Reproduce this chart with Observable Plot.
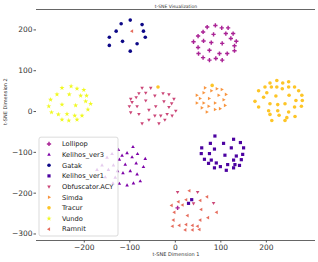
<!DOCTYPE html>
<html><head><meta charset="utf-8">
<script src="https://cdn.jsdelivr.net/npm/d3@7"></script>
<script src="https://cdn.jsdelivr.net/npm/@observablehq/plot@0.6"></script>
<style>body{margin:0;background:#fff}</style>
</head><body><div id="chart"></div>
<script>
const classes = ["Gatak","Kelihos_ver1","Kelihos_ver3","Lollipop","Obfuscator.ACY","Ramnit","Simda","Tracur","Vundo"];
const legendOrder = ["Lollipop","Kelihos_ver3","Gatak","Kelihos_ver1","Obfuscator.ACY","Simda","Tracur","Vundo","Ramnit"];
const xTicks = [-200,-100,0,100,200];
const yTicks = [-300,-200,-100,0,100,200];
const xDomain = [-305, 308];
const yDomain = [-316, 250];

const gatak = [[-99,224],[-119,215],[-73,213],[-130,197],[-70,197],[-145,182],[-66,182],[-116,172],[-84,166],[-145,162],[-99,148]];
const lollipop = [[88,211],[70,207],[102,205],[116,205],[61,195],[84,189],[111,191],[127,191],[50,185],[122,179],[40,171],[62,173],[79,169],[103,167],[134,172],[130,161],[50,157],[75,150],[51,142],[97,142],[114,142],[130,149],[61,132],[75,126],[89,130],[103,126],[5,-236]];
const vundo = [[-229,62],[-249,58],[-216,56],[-201,53],[-260,42],[-233,42],[-208,39],[-195,39],[-274,29],[-197,25],[-249,17],[-219,15],[-186,19],[-278,13],[-192,5],[-272,-2],[-257,-7],[-238,-6],[-221,-10],[-205,-10],[-249,-20],[-234,-22],[-216,-20]];
const obfuscator = [[-73,58],[-54,58],[-65,46],[-80,45],[-45,39],[-27,45],[-14,42],[-98,31],[-86,35],[-3,31],[-65,27],[-25,25],[-95,23],[-8,20],[-101,13],[-84,13],[-43,13],[-14,11],[-58,4],[-98,-2],[1,2],[-80,-6],[-45,-10],[-32,-10],[-18,-6],[-7,-10],[-58,-20],[-23,-20],[-73,-29],[-36,-29],[5,-197],[49,-197],[84,-224],[40,-225]];
const simda = [[65,58],[91,56],[102,54],[79,51],[62,46],[47,40],[95,40],[111,42],[54,32],[74,32],[106,29],[47,21],[62,21],[87,21],[109,15],[58,9],[73,13],[87,5],[98,7],[69,-1]];
const tracur = [[223,76],[208,70],[236,70],[249,73],[197,60],[211,60],[223,60],[235,56],[249,60],[262,60],[183,51],[201,46],[271,51],[221,38],[194,35],[250,40],[278,40],[265,27],[175,25],[208,19],[225,17],[241,19],[279,27],[183,11],[262,11],[277,13],[205,2],[225,2],[249,-1],[208,-7],[228,-9],[245,-15],[263,-12],[212,-22],[241,-22],[-38,60],[81,64]];
const kelihos3 = [[-93,-87],[-106,-102],[-83,-104],[-117,-108],[-95,-112],[-66,-116],[-86,-127],[-110,-130],[-70,-136],[-99,-146],[-115,-151],[-84,-154],[-77,-171],[-92,-176],[-106,-181],[-125,-94],[-139,-104],[-150,-113],[-123,-118],[-161,-132],[-136,-132],[-172,-143],[-147,-143],[-127,-146],[-154,-161],[-132,-162],[-137,-176],[-123,-177]];
const kelihos1 = [[87,-60],[128,-68],[77,-78],[106,-78],[143,-76],[58,-89],[86,-92],[123,-89],[150,-89],[57,-103],[75,-103],[109,-107],[134,-109],[148,-105],[64,-117],[79,-119],[128,-119],[145,-118],[73,-127],[90,-126],[115,-130],[131,-130],[99,-135],[86,-138],[128,-138],[112,-144],[141,-132],[36,-216],[29,-225]];
const ramnit = [[31,-194],[70,-209],[7,-221],[24,-216],[16,-229],[-8,-230],[55,-218],[57,-240],[-2,-247],[91,-247],[27,-255],[72,-260],[-4,-266],[55,-266],[9,-279],[24,-277],[38,-279],[49,-281],[-6,-281],[22,-290],[38,-290],[53,-289],[-95,197]];

const tri = (angle) => ({draw(ctx, size){
  const r = Math.sqrt(size / Math.PI) * 1.3;
  for (let k = 0; k < 3; k++) {
    const a = angle + k * 2 * Math.PI / 3;
    const x = r * Math.cos(a), y = r * Math.sin(a);
    if (k) ctx.lineTo(x, y); else ctx.moveTo(x, y);
  }
  ctx.closePath();
}});
const symbolsByClass = {
  "Gatak": d3.symbolCircle,
  "Kelihos_ver1": d3.symbolSquare,
  "Kelihos_ver3": tri(-Math.PI/2),
  "Lollipop": d3.symbolCross,
  "Obfuscator.ACY": tri(Math.PI/2),
  "Ramnit": tri(Math.PI),
  "Simda": tri(0),
  "Tracur": d3.symbolCircle,
  "Vundo": d3.symbolStar
};
const sizeByClass = {"Gatak":1.8,"Kelihos_ver1":1.8,"Kelihos_ver3":1.6,"Lollipop":1.8,"Obfuscator.ACY":1.6,"Ramnit":1.6,"Simda":1.6,"Tracur":1.8,"Vundo":1.6};
const seriesByClass = {"Gatak":gatak,"Kelihos_ver1":kelihos1,"Kelihos_ver3":kelihos3,"Lollipop":lollipop,"Obfuscator.ACY":obfuscator,"Ramnit":ramnit,"Simda":simda,"Tracur":tracur,"Vundo":vundo};
const color = c => d3.interpolatePlasma(classes.indexOf(c) / (classes.length - 1));

const drawOrder = ["Lollipop","Kelihos_ver3","Gatak","Kelihos_ver1","Obfuscator.ACY","Simda","Tracur","Vundo","Ramnit"];
const dotMarks = drawOrder.map(c => Plot.dot(seriesByClass[c].map(([x,y]) => ({x, y, c})), {
  x: "x", y: "y", symbol: symbolsByClass[c], r: sizeByClass[c], fill: color(c), stroke: "none"
}));

const W = 318, H = 262;
const mL = 36, mR = 3, mT = 9, mB = 22;
const plot = Plot.plot({
  width: W, height: H,
  marginLeft: mL, marginRight: mR, marginTop: mT, marginBottom: mB,
  style: {fontFamily: "DejaVu Sans", fontSize: "7.5px", color: "#333", background: "#fff"},
  x: {domain: xDomain},
  y: {domain: yDomain},
  marks: [
    Plot.ruleY([yDomain[0], yDomain[1]], {stroke: "#555", strokeWidth: 0.9}),
    Plot.axisX(xTicks, {tickSize: 2.5, tickPadding: 1.5, tickFormat: d3.format("d"), label: null, stroke: "#555"}),
    Plot.axisY(yTicks, {tickSize: 2.5, tickPadding: 1.5, tickFormat: d3.format("d"), label: null, stroke: "#555"}),
    ...dotMarks,
    Plot.text(["t-SNE Dimension 1"], {frameAnchor: "bottom", dy: 15, fontSize: 5, fill: "#333"}),
    Plot.text(["t-SNE Dimension 2"], {frameAnchor: "left", dx: -31, rotate: -90, fontSize: 5, fill: "#333"}),
    Plot.text(["t-SNE Visualization"], {frameAnchor: "top", dy: -5, fontSize: 4.5, fill: "#333"})
  ]
});
document.getElementById("chart").appendChild(plot);

// legend (matplotlib-style, inside axes, lower left)
const svg = d3.select(plot);
const lx = mL + 3, lw = 79, rowH = 10.65;
const lh = rowH * legendOrder.length + 3;
const ly = H - mB - 4 - lh;
const g = svg.append("g").attr("text-anchor", "start");
g.append("rect").attr("x", lx).attr("y", ly).attr("width", lw).attr("height", lh)
  .attr("rx", 2).attr("fill", "#fff").attr("fill-opacity", 0.8)
  .attr("stroke", "#ccc").attr("stroke-width", 0.7);
legendOrder.forEach((c, i) => {
  const cy = ly + 6.8 + i * rowH;
  g.append("path").attr("transform", `translate(${lx + 10},${cy})`)
    .attr("d", d3.symbol(symbolsByClass[c], Math.PI * sizeByClass[c] ** 2)())
    .attr("fill", color(c));
  g.append("text").attr("x", lx + 23).attr("y", cy).attr("dy", "0.35em")
    .attr("text-anchor", "start")
    .attr("font-family", "DejaVu Sans").attr("font-size", 6.7).attr("fill", "#222").text(c);
});
</script></body></html>
